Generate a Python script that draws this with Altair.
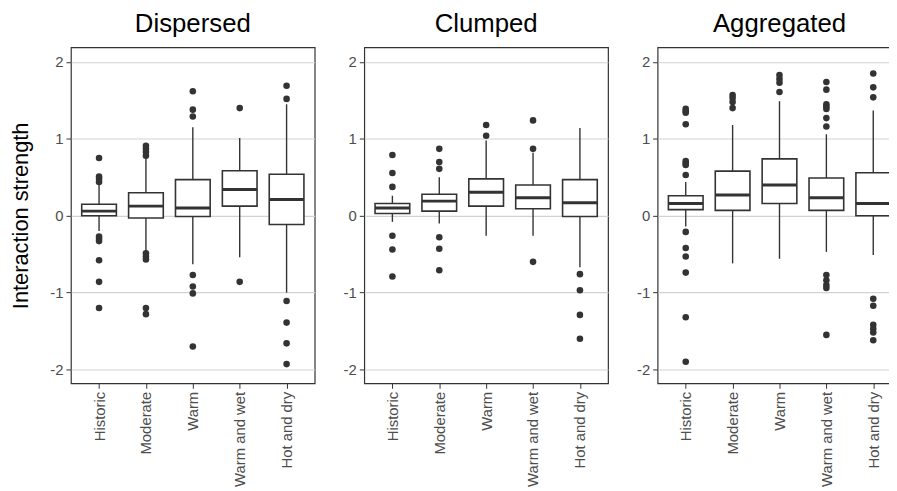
import altair as alt
import pandas as pd

categories = ["Historic", "Moderate", "Warm", "Warm and wet", "Hot and dry"]
panels = ["Dispersed", "Clumped", "Aggregated"]

# box statistics per panel, in category order
dispersed_q1 = [0.00, -0.03, -0.01, 0.125, -0.115]
dispersed_med = [0.06, 0.125, 0.10, 0.34, 0.21]
dispersed_q3 = [0.15, 0.30, 0.47, 0.585, 0.54]
dispersed_lo = [-0.20, -0.46, -0.63, -0.54, -1.00]
dispersed_hi = [0.40, 0.75, 1.15, 1.01, 1.45]

clumped_q1 = [0.03, 0.06, 0.125, 0.09, -0.01]
clumped_med = [0.10, 0.19, 0.305, 0.235, 0.17]
clumped_q3 = [0.16, 0.28, 0.48, 0.40, 0.47]
clumped_lo = [-0.08, -0.10, -0.26, -0.26, -0.67]
clumped_hi = [0.26, 0.50, 0.98, 0.82, 1.14]

aggregated_q1 = [0.08, 0.07, 0.16, 0.07, 0.00]
aggregated_med = [0.16, 0.27, 0.40, 0.235, 0.16]
aggregated_q3 = [0.26, 0.58, 0.74, 0.49, 0.56]
aggregated_lo = [-0.14, -0.62, -0.56, -0.47, -0.51]
aggregated_hi = [0.44, 1.18, 1.49, 1.06, 1.37]

# outliers per panel, per category
dispersed_out = [
    [0.75, 0.51, 0.48, 0.44, -0.27, -0.30, -0.33, -0.58, -0.86, -1.20],
    [0.91, 0.87, 0.83, 0.78, -0.49, -0.53, -0.57, -1.20, -1.28],
    [1.62, 1.38, 1.29, -0.77, -0.92, -1.01, -1.70],
    [1.40, -0.86],
    [1.69, 1.52, -1.11, -1.39, -1.66, -1.93],
]
clumped_out = [
    [0.79, 0.555, 0.375, -0.26, -0.44, -0.79],
    [0.87, 0.70, 0.61, -0.28, -0.43, -0.71],
    [1.18, 1.04],
    [1.24, 0.87, -0.60],
    [-0.76, -0.97, -1.29, -1.60],
]
aggregated_out = [
    [1.39, 1.36, 1.34, 1.19, 0.71, 0.68, 0.66, 0.53, -0.21, -0.42, -0.53, -0.74, -1.32, -1.90],
    [1.57, 1.53, 1.48, 1.40],
    [1.83, 1.78, 1.73, 1.61],
    [1.74, 1.64, 1.45, 1.42, 1.39, 1.27, 1.16, -0.77, -0.84, -0.90, -0.94, -1.55],
    [1.85, 1.67, 1.54, -1.08, -1.17, -1.42, -1.47, -1.52, -1.62],
]

stats = {
    "Dispersed": (dispersed_q1, dispersed_med, dispersed_q3, dispersed_lo, dispersed_hi, dispersed_out),
    "Clumped": (clumped_q1, clumped_med, clumped_q3, clumped_lo, clumped_hi, clumped_out),
    "Aggregated": (aggregated_q1, aggregated_med, aggregated_q3, aggregated_lo, aggregated_hi, aggregated_out),
}

FONT = "Liberation Sans"
DARK = "#333333"

def panel(name, first):
    q1, med, q3, lo, hi, outs = stats[name]
    box = pd.DataFrame({"cat": categories, "q1": q1, "med": med, "q3": q3, "lo": lo, "hi": hi})
    rows = []
    for c, vals in zip(categories, outs):
        for v in vals:
            rows.append({"cat": c, "v": v})
    pts = pd.DataFrame(rows)

    xenc = alt.X("cat:N", sort=categories, title=None,
                 scale=alt.Scale(type="point", padding=0.6),
                 axis=alt.Axis(labelAngle=-90, grid=False, domain=False, ticks=True,
                               tickColor=DARK, tickSize=5, labelPadding=3,
                               labelFont=FONT, labelFontSize=15, labelColor="#4d4d4d"))
    yscale = alt.Scale(domain=[-2.18, 2.19], nice=False, zero=False)
    yaxis = alt.Axis(values=[-2, -1, 0, 1, 2], grid=True, gridColor="#d2d2d2", gridWidth=1.1,
                     domain=False, tickColor=DARK, tickSize=5, labelPadding=3,
                     labelFont=FONT, labelFontSize=15, labelColor="#4d4d4d",
                     labelExpr="datum.value < 0 ? '-' + abs(datum.value) : '' + datum.value",
                     title="Interaction strength" if first else None,
                     titleFont=FONT, titleFontSize=22, titleFontWeight="normal",
                     titleColor="black", titlePadding=17.5)

    base = alt.Chart(box)
    whisk = base.mark_rule(color=DARK, strokeWidth=1.4).encode(
        x=xenc, y=alt.Y("lo:Q", scale=yscale, axis=yaxis), y2="hi:Q")
    bx = base.mark_bar(size=35, fill="white", stroke=DARK, strokeWidth=1.6).encode(
        x=xenc, y=alt.Y("q1:Q", scale=yscale, axis=yaxis), y2="q3:Q")
    md = base.mark_tick(size=35, thickness=3, color=DARK, opacity=1, orient="horizontal").encode(
        x=xenc, y=alt.Y("med:Q", scale=yscale, axis=yaxis))
    op = alt.Chart(pts).mark_circle(size=44, color=DARK, opacity=1).encode(
        x=xenc, y=alt.Y("v:Q", scale=yscale, axis=yaxis))
    return alt.layer(whisk, bx, md, op).properties(
        width=246, height=339,
        title=alt.TitleParams(name, font=FONT, fontSize=26, fontWeight="normal",
                              color="black", anchor="middle", frame="group",
                              baseline="alphabetic", offset=-10))

chart = alt.hconcat(*[panel(p, i == 0) for i, p in enumerate(panels)], spacing=27).properties(
    autosize=alt.AutoSizeParams(type="none"),
    padding={"left": 63.5, "top": 36, "right": 825.5, "bottom": 447}
).configure(background="white").configure_view(stroke=DARK, strokeWidth=1.2)

chart.save("out.html", embed_options={"renderer": "svg", "actions": False})
